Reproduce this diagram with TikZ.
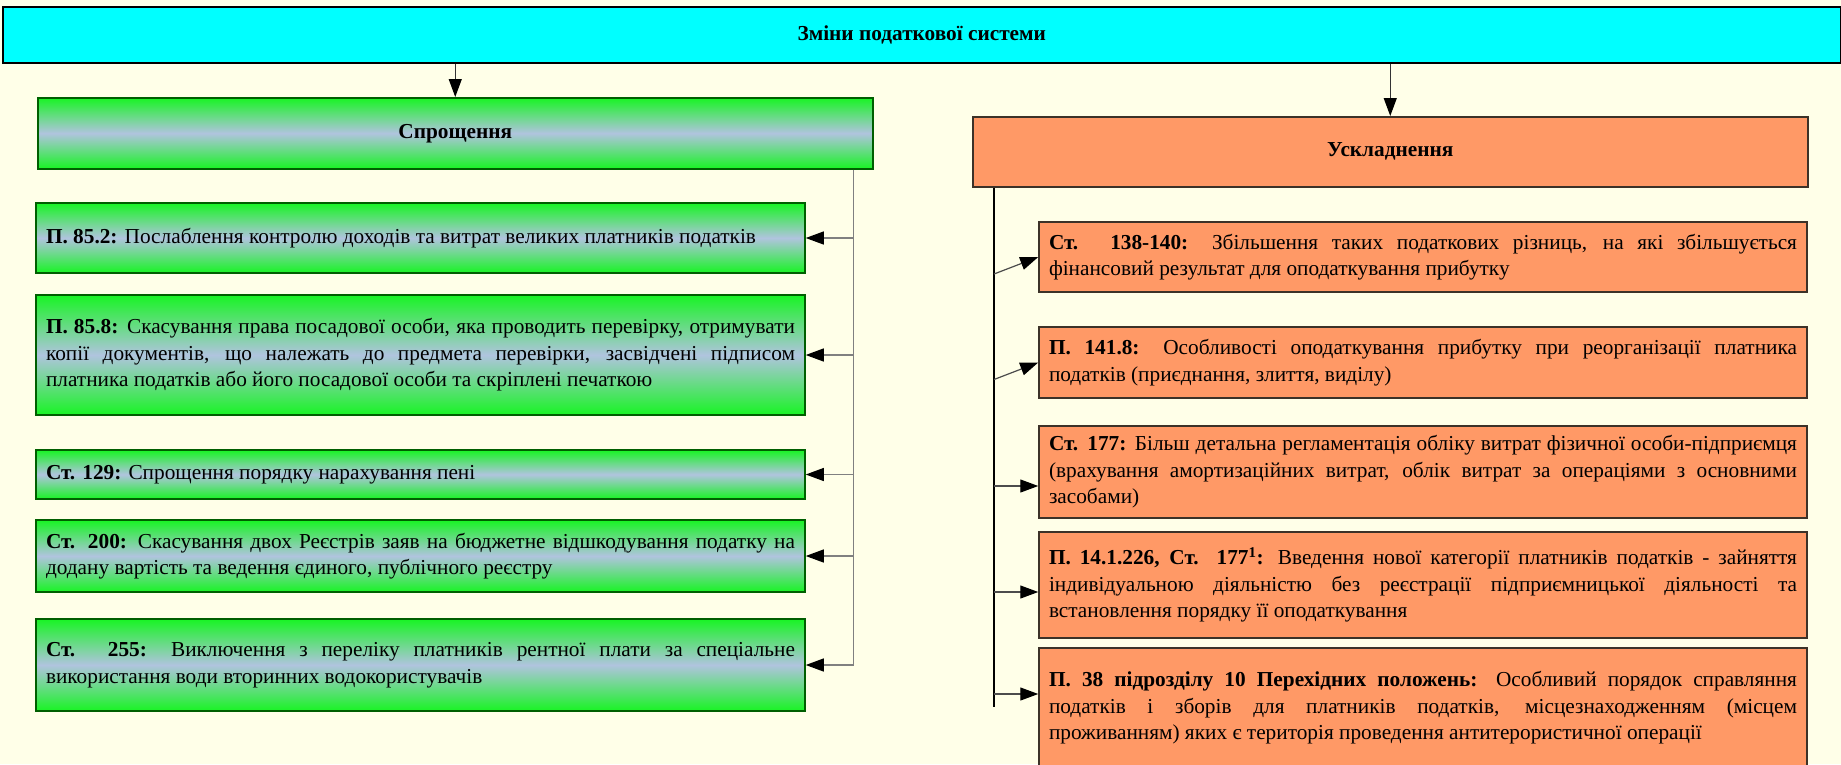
\documentclass[tikz,border=0pt]{standalone}
\usepackage{fontspec}
\setmainfont{Liberation Serif}
\usetikzlibrary{arrows.meta,calc}

\definecolor{bgyellow}{RGB}{255,255,232}
\definecolor{topcyan}{RGB}{0,255,255}
\definecolor{simpgreen}{RGB}{24,244,36}
\definecolor{simpblue}{RGB}{176,196,222}
\definecolor{simpborder}{RGB}{0,95,0}
\definecolor{usklorange}{RGB}{255,153,102}
\definecolor{usklborder}{RGB}{60,50,40}

\tikzset{
	box/.style={draw, rectangle, line width=1.5pt, inner xsep=10pt, inner ysep=0pt,
		font=\fontsize{21.3}{26.5}\selectfont},
	headbox/.style={box, anchor=north west, font=\fontsize{21.3}{26.5}\selectfont\bfseries},
	simpbox/.style={box, draw=simpborder, top color=simpgreen, bottom color=simpgreen,
		middle color=simpblue, text width=749pt, align=justify},
	usklbox/.style={box, draw=usklborder, fill=usklorange, text width=748pt, align=justify},
	tip/.style={-{Triangle[length=18pt,width=13pt,black]}},
	lconn/.style={tip, draw=gray, line width=1.2pt},
	rconn/.style={tip, draw=black!70, line width=1.2pt}
}

\begin{document}
\begin{tikzpicture}[x=1pt, y=-1pt]
	\useasboundingbox (0,0) rectangle (1841,764);
	\fill[bgyellow] (0,0) rectangle (1841,764);
	\clip (0,0) rectangle (1841,764);
	\hyphenpenalty=10000

	\node[headbox, fill=topcyan, minimum width=1838pt, minimum height=56pt] (zminy) at (2,6) {Зміни податкової системи};
	\node[headbox, draw=simpborder, top color=simpgreen, bottom color=simpgreen, middle color=simpblue,
		minimum width=835pt, minimum height=71pt] (sproshch) at (37,97) {Спрощення};
	\node[headbox, draw=usklborder, fill=usklorange, minimum width=835pt, minimum height=70pt] (uskl) at (972,116) {Ускладнення};

	\node[simpbox, minimum height=70pt] (s1) at (420.5,238) {\textbf{П. 85.2:} Послаблення контролю доходів та витрат великих платників податків};
	\node[simpbox, minimum height=120pt] (s2) at (420.5,355) {\textbf{П. 85.8:} Скасування права посадової особи, яка проводить перевірку, отримувати\linebreak копії документів, що належать до предмета перевірки, засвідчені підписом\linebreak платника податків або його посадової особи та скріплені печаткою};
	\node[simpbox, minimum height=49pt] (s3) at (420.5,474.5) {\textbf{Ст. 129:} Спрощення порядку нарахування пені};
	\node[simpbox, minimum height=72pt] (s4) at (420.5,556) {\textbf{Ст. 200:} Скасування двох Реєстрів заяв на бюджетне відшкодування податку на\linebreak додану вартість та ведення єдиного, публічного реєстру};
	\node[simpbox, minimum height=92pt] (s5) at (420.5,665) {\textbf{Ст. 255:} Виключення з переліку платників рентної плати за спеціальне\linebreak використання води вторинних водокористувачів};

	\node[usklbox, minimum height=70pt] (u1) at (1423,257) {\textbf{Ст. 138-140:} Збільшення таких податкових різниць, на які збільшується\linebreak фінансовий результат для оподаткування прибутку};
	\node[usklbox, minimum height=71pt] (u2) at (1423,362.5) {\textbf{П. 141.8:} Особливості оподаткування прибутку при реорганізації платника\linebreak податків (приєднання, злиття, виділу)};
	\node[usklbox, minimum height=92pt] (u3) at (1423,472) {\textbf{Ст. 177:} Більш детальна регламентація обліку витрат фізичної особи-підприємця\linebreak (врахування амортизаційних витрат, облік витрат за операціями з основними\linebreak засобами)};
	\node[usklbox, minimum height=106pt] (u4) at (1423,585) {\textbf{П. 14.1.226, Ст. 177\textsuperscript{1}:} Введення нової категорії платників податків - зайняття\linebreak індивідуальною діяльністю без реєстрації підприємницької діяльності та\linebreak встановлення порядку її оподаткування};
	\node[usklbox, minimum height=120pt] (u5) at (1423,708) {\textbf{П. 38 підрозділу 10 Перехідних положень:} Особливий порядок справляння\linebreak податків і зборів для платників податків, місцезнаходженням (місцем\linebreak проживанням) яких є територія проведення антитерористичної операції};

	\draw[rconn, draw=black!80] (zminy.south -| sproshch.north) -- (sproshch.north);
	\draw[rconn, draw=black!80] (zminy.south -| uskl.north) -- (uskl.north);

	\coordinate (lbus) at ($(sproshch.south east)+(-20,0)$);
	\coordinate (lend) at (lbus |- s5.east);
	\draw[draw=gray, line width=1.2pt] (lbus) -- (lend);
	\foreach \s in {s1,s2,s3,s4,s5}
		\draw[lconn] (lbus |- \s.east) -- (\s.east);

	\coordinate (rbus) at ($(uskl.south west)+(22,0)$);
	\coordinate (rend) at ($(rbus)+(0,519)$);
	\draw[line width=1.2pt] (rbus) -- (rend);
	\foreach \u/\a/\b in {u1/17/0, u2/17/0, u3/14/14, u4/7/7, u5/-14/-14}
		\draw[rconn] ($(rbus |- \u.west)+(0,\a)$) -- ($(\u.west)+(0,\b)$);
\end{tikzpicture}
\end{document}
